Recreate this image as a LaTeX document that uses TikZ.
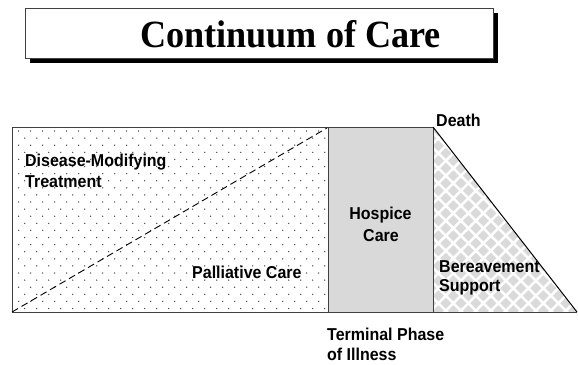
\documentclass[tikz,border=0pt]{standalone}
\usepackage{fontspec}
\setmainfont{Liberation Sans}
\newfontfamily\titlefont{Liberation Serif}[FakeStretch=0.94]
\newfontfamily\labfont{Liberation Sans}[FakeStretch=0.93]
\definecolor{boxgray}{HTML}{D9D9D9}
\definecolor{diagray}{HTML}{DADADA}
\definecolor{dotgray}{HTML}{4A4A4A}
\definecolor{edgegray}{HTML}{404040}
\begin{document}
\begin{tikzpicture}[x=1pt,y=-1pt,
  lab/.style={font=\labfont\bfseries\fontsize{17.2}{20}\selectfont, inner sep=0pt, anchor=base west, text=black},
  labc/.style={lab, anchor=base},
  outline/.style={draw=edgegray, line width=0.9pt}]
\useasboundingbox (0,0) rectangle (578,364);
\fill[white] (0,0) rectangle (578,364);
% title box with shadow
\fill[black] (30,13) rectangle (498,63);
\draw[draw=edgegray, fill=white, line width=0.8pt] (25,8) rectangle (493,58);
\node[inner sep=0pt, anchor=base, font=\titlefont\bfseries\fontsize{38.5}{42}\selectfont] (title) at (290.5,47.3) {Continuum of Care};
% corners
\coordinate (A) at (12,127);
\coordinate (B) at (328,127);
\coordinate (C) at (433,127);
\coordinate (D) at (577,312);
\coordinate (E) at (433,312);
\coordinate (F) at (328,312);
\coordinate (G) at (12,312);
% dotted area
\begin{scope}
  \clip (A) rectangle (F);
  \foreach \r in {0,...,25}{
    \foreach \c in {1,...,27}{
      \fill[dotgray] ({6.7+6*mod(\r,2)+12*\c},{131+7.1*\r}) circle (0.75pt);
    }
  }
\end{scope}
% hospice
\fill[boxgray] (B) rectangle (E);
% diamonds in triangle
\begin{scope}
  \clip (C) -- (D) -- (E) -- cycle;
  \foreach \r in {-1,...,25}{
    \foreach \c in {-1,...,10}{
      \pgfmathsetmacro\xx{438.3+7.5*mod(\r+2,2)+15*\c}
      \pgfmathsetmacro\yy{130.75+7.5*\r}
      \fill[diagray] (\xx-5.5,\yy) -- (\xx,\yy-5.5) -- (\xx+5.5,\yy) -- (\xx,\yy+5.5) -- cycle;
    }
  }
\end{scope}
% outlines
\draw[outline] (A) rectangle (F);
\draw[outline] (B) rectangle (E);
\draw[black, line width=1pt] (C) -- (D);
\draw[outline] (G) -- (D);
\draw[black, line width=0.9pt, dash pattern=on 7pt off 4pt] (G) -- (327,128);
% labels
\node[lab] (dmt1) at (25,166.5) {Disease-Modifying};
\node[lab] (dmt2) at (25,187.5) {Treatment};
\node[lab] (pc) at (192,278) {Palliative Care};
\node[labc] (hc1) at (380.5,219.3) {Hospice};
\node[labc] (hc2) at (381,241.5) {Care};
\node[lab] (death) at (436,126) {Death};
\node[lab] (bs1) at (439,272) {Bereavement};
\node[lab] (bs2) at (439,291.5) {Support};
\node[lab] (tp1) at (327,340) {Terminal Phase};
\node[lab] (tp2) at (327,360.5) {of Illness};
\end{tikzpicture}
\end{document}
